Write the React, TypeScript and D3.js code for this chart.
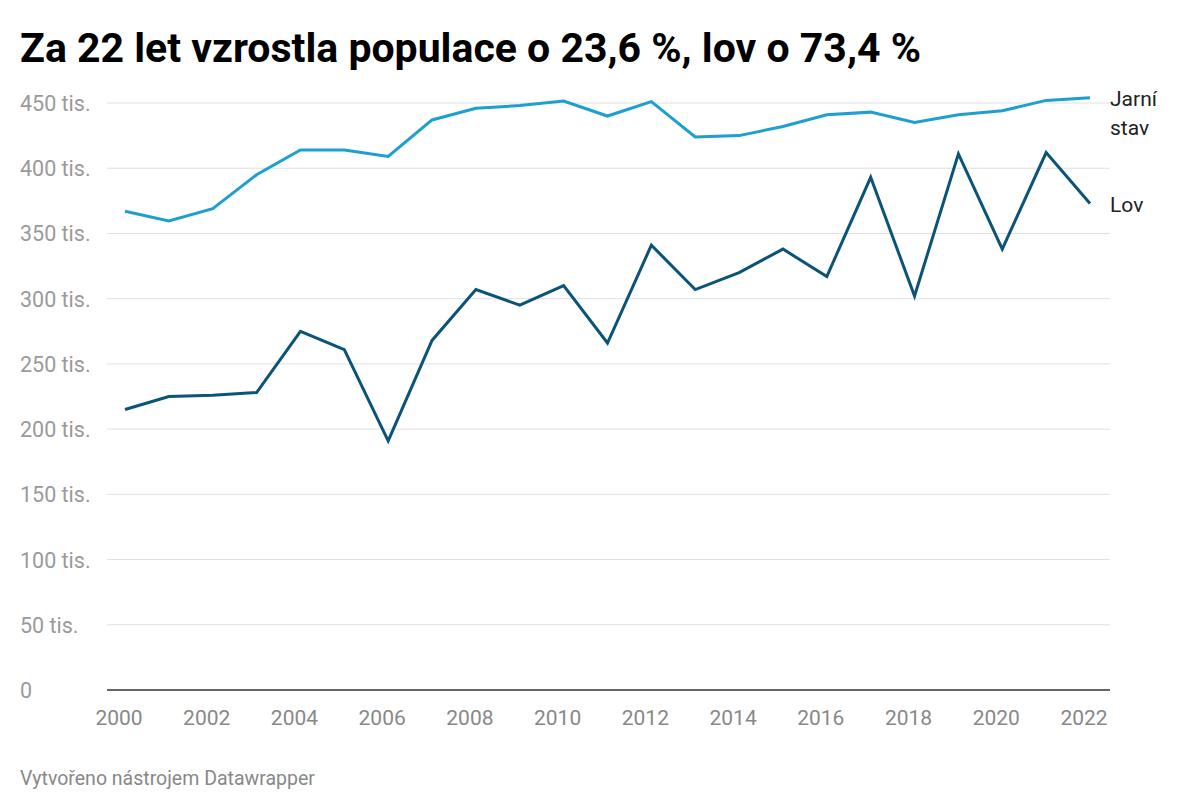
import * as d3 from 'd3';
import React from 'react';

const years = d3.range(2000, 2023);
const jarniStav = [367, 359.5, 369, 395, 414, 414, 409, 437, 446, 448, 451.5, 440, 451, 424, 425, 432, 441, 443, 435, 441, 444, 452, 454];
const lov = [215, 225, 226, 228, 275, 261, 191, 268, 307, 295, 310, 266, 341, 307, 320, 338, 317, 393, 302, 411, 338, 412, 373];
const yTicks = [0, 50, 100, 150, 200, 250, 300, 350, 400, 450];
const xTicks = d3.range(2000, 2023, 2);

const App: React.FC = () => {
  const width = 1200;
  const height = 812;
  const left = 107;
  const right = 1110;
  const top = 103;
  const bottom = 690;
  const font = 'Roboto, sans-serif';

  const x = d3.scaleLinear().domain([2000, 2022]).range([125, 1090]);
  const y = d3.scaleLinear().domain([0, 450]).range([bottom, top]);
  const line = d3.line<number>().x((_, i) => x(years[i])).y(d => y(d));

  return (
    <svg width={width} height={height} style={{ position: 'absolute', left: 0, top: 0 }}>
      <rect width={width} height={height} fill="#fff" />
      <text x={20} y={62} fontFamily={font} fontWeight={700} fontSize={41} fill="#000">
        Za 22 let vzrostla populace o 23,6 %, lov o 73,4 %
      </text>
      {yTicks.map(t => (
        <g key={t}>
          {t > 0 && <line x1={left} x2={right} y1={y(t)} y2={y(t)} stroke="#e0e0e0" />}
          <text x={20} y={y(t) + 8} fontFamily={font} fontSize={21.5} fill="#9a9a9a">
            {t === 0 ? '0' : `${t} tis.`}
          </text>
        </g>
      ))}
      <line x1={left} x2={right} y1={bottom} y2={bottom} stroke="#333" strokeWidth={1.5} />
      {xTicks.map(t => (
        <text key={t} x={x(t) - 6} y={bottom + 35} textAnchor="middle" fontFamily={font} fontSize={21} fill="#888">
          {t}
        </text>
      ))}
      <path d={line(jarniStav) ?? ''} fill="none" stroke="#1d9fcf" strokeWidth={3} />
      <path d={line(lov) ?? ''} fill="none" stroke="#0b5378" strokeWidth={3} />
      <text x={1110} y={y(454) + 8} fontFamily={font} fontSize={21} fill="#222">Jarní</text>
      <text x={1110} y={y(454) + 37} fontFamily={font} fontSize={21} fill="#222">stav</text>
      <text x={1110} y={y(373) + 9} fontFamily={font} fontSize={21} fill="#222">Lov</text>
      <text x={20} y={785} fontFamily={font} fontSize={19.5} fill="#888">Vytvořeno nástrojem Datawrapper</text>
    </svg>
  );
};

export default App;
